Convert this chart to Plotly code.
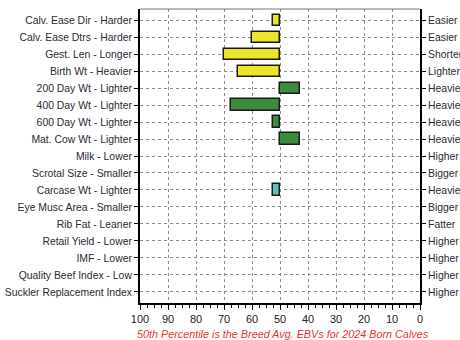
import plotly.graph_objects as go

traits = ["Calv. Ease Dir - Harder", "Calv. Ease Dtrs - Harder", "Gest. Len - Longer",
          "Birth Wt - Heavier", "200 Day Wt - Lighter", "400 Day Wt - Lighter",
          "600 Day Wt - Lighter", "Mat. Cow Wt - Lighter", "Milk - Lower",
          "Scrotal Size - Smaller", "Carcase Wt - Lighter", "Eye Musc Area - Smaller",
          "Rib Fat - Leaner", "Retail Yield - Lower", "IMF - Lower",
          "Quality Beef Index - Low", "Suckler Replacement Index"]
right_labels = ["Easier", "Easier", "Shorter", "Lighter", "Heavier", "Heavier",
                "Heavier", "Heavier", "Higher", "Bigger", "Heavier", "Bigger",
                "Fatter", "Higher", "Higher", "Higher", "Higher"]
percentiles = [52.5, 60, 70, 65, 43, 67.5, 52.5, 43, None,
               None, 52.5, None, None, None, None, None, None]
groups = ["calving", "calving", "calving", "calving", "growth", "growth",
          "growth", "growth", "growth", "growth", "carcase", "carcase",
          "carcase", "carcase", "carcase", "index", "index"]
group_colors = {"calving": "#ECE62A", "growth": "#3D8B3D", "carcase": "#5CC3BF", "index": "#888888"}
breed_avg = 50
x_ticks = [100, 90, 80, 70, 60, 50, 40, 30, 20, 10, 0]

idx = list(range(len(traits)))
bx, by, bc = [], [], []
for i, v in enumerate(percentiles):
    if v is not None:
        bx.append(v - breed_avg)
        by.append(i)
        bc.append(group_colors[groups[i]])

fig = go.Figure()
fig.add_trace(go.Bar(x=bx, y=by, base=breed_avg, orientation="h", width=0.65,
                     marker=dict(color=bc, line=dict(color="#1a1a1a", width=1.5)),
                     hoverinfo="skip", showlegend=False))
fig.add_trace(go.Scatter(x=[50], y=[0], yaxis="y2", mode="markers",
                         marker=dict(opacity=0), showlegend=False, hoverinfo="skip"))

yr = [len(traits) - 1 + 0.65, -0.65]
grid_dash = "3px,3px"
fig.update_layout(
    width=460, height=340,
    margin=dict(l=140, r=40, t=9, b=37, autoexpand=False),
    paper_bgcolor="white", plot_bgcolor="white",
    font=dict(family="Liberation Sans, Arial", size=10.4, color="#2a2a33"),
    bargap=0,
    xaxis=dict(range=[100, 0], tickvals=x_ticks, showgrid=True, gridcolor="#8a8a8a",
               griddash=grid_dash, gridwidth=1, zeroline=False, automargin=False,
               showline=True, linecolor="black", linewidth=2,
               ticks="outside", ticklen=5, tickcolor="black", tickwidth=1,
               minor=dict(dtick=2.5, ticks="outside", ticklen=3, tickcolor="black", showgrid=False),
               tickfont=dict(size=11, color="#222")),
    yaxis=dict(range=yr, tickmode="array", tickvals=idx, ticktext=traits, automargin=False,
               showgrid=True, gridcolor="#8a8a8a", griddash=grid_dash, gridwidth=1,
               zeroline=False, showline=True, linecolor="black", linewidth=2,
               ticks="outside", ticklen=4, tickcolor="black", ticklabelstandoff=0),
    yaxis2=dict(range=yr, tickmode="array", tickvals=idx, ticktext=right_labels,
                overlaying="y", side="right", anchor="x", showgrid=False, automargin=False,
                zeroline=False, showline=True, linecolor="black", linewidth=2,
                ticks="outside", ticklen=4, tickcolor="black"),
    shapes=[dict(type="line", xref="paper", yref="paper", x0=0, x1=1, y0=1, y1=1,
                 line=dict(color="#777", width=1))],
    annotations=[dict(text="50th Percentile is the Breed Avg. EBVs for 2024 Born Calves",
                      xref="paper", yref="paper", x=0.51, y=0, yshift=-23,
                      showarrow=False, xanchor="center", yanchor="top",
                      font=dict(size=10.8, color="#E8342C", family="Liberation Sans, Arial",
                                style="italic"))],
)
fig.write_html("out.html", config={"displayModeBar": False},
               post_script="document.body.style.margin='0';document.body.style.overflow='hidden';")
